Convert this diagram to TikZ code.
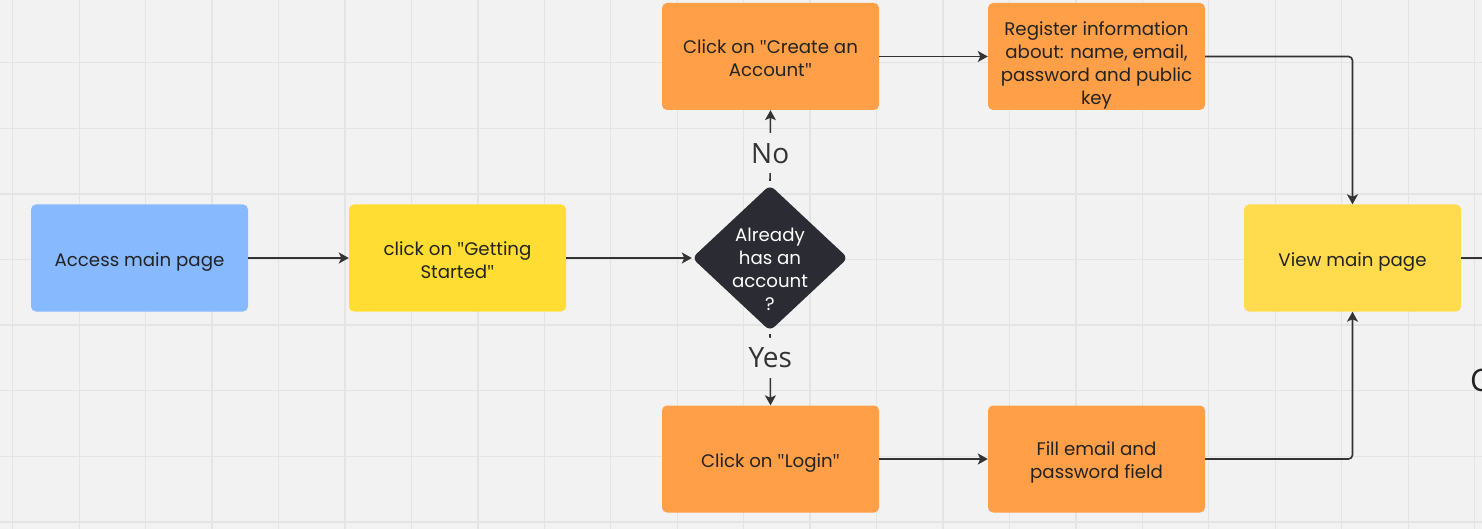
\documentclass[tikz,border=0pt]{standalone}
\usepackage{fontspec}
\setmainfont{Poppins}
\newfontfamily\labfont{Open Sans}
\newcommand\dq{{\labfont"}}
\usetikzlibrary{shapes.geometric,arrows.meta}
\definecolor{bg}{HTML}{F2F2F2}
\definecolor{gridc}{HTML}{E4E4E4}
\definecolor{bluec}{HTML}{86B9FF}
\definecolor{yellowa}{HTML}{FFDD33}
\definecolor{yellowb}{HTML}{FFDB4D}
\definecolor{orangec}{HTML}{FF9F47}
\definecolor{darkc}{HTML}{2B2C33}
\definecolor{txt}{HTML}{232323}
\definecolor{ln}{HTML}{333333}
\tikzset{
  box/.style={rectangle, rounded corners=5pt, minimum width=217pt, minimum height=107pt,
    inner sep=0pt},
  boxtext/.style={inner sep=0pt, align=center, text=txt, font=\fontsize{18.2}{23}\selectfont},
  conn/.style={draw=ln, line width=1.6pt, -{Stealth[length=10pt,width=11pt,inset=2.5pt]}},
  yn/.style={fill=bg, text=ln, font=\labfont\fontsize{28}{30}\selectfont,
    inner xsep=2pt, inner ysep=10pt, text height=20pt, text depth=0pt},
  dia/.style={diamond, fill=darkc, minimum width=156pt, minimum height=146pt,
    inner sep=0pt, rounded corners=6pt},
}
\begin{document}
\begin{tikzpicture}[x=1pt,y=-1pt]
\useasboundingbox (0,0) rectangle (1482,529);
\clip (0,0) rectangle (1482,529);
\fill[bg] (0,0) rectangle (1482,529);
\foreach \i in {0,...,22} {
  \draw[gridc, line width=1.3pt] ({12.7+66.45*\i},0) -- ({12.7+66.45*\i},529);
}
\foreach \j in {0,...,8} {
  \draw[gridc, line width=1.3pt] (0,{-2.9+65.6*\j}) -- (1482,{-2.9+65.6*\j});
}
% shapes
\node[box, fill=bluec] (acc) at (139.5,258) {};
\node[box, fill=yellowa] (get) at (457.5,258) {};
\node[dia] (q) at (770,258) {};
\node[box, fill=orangec] (create) at (770.5,56.5) {};
\node[box, fill=orangec] (reg) at (1096.5,56.5) {};
\node[box, fill=orangec] (login) at (770.5,459) {};
\node[box, fill=orangec] (fill) at (1096.5,459) {};
\node[box, fill=yellowb] (view) at (1352.5,258) {};
% texts
\node[boxtext] (acct) at (139.5,262) {Access main page};
\node[boxtext] (gett) at (457.5,260.5) {click on \dq Getting\\Started\dq};
\node[boxtext, text=white] (qt) at (770,269) {Already\\has an\\account\\?};
\node[boxtext] (createt) at (770.5,58) {Click on \dq Create an\\Account\dq};
\node[boxtext] (regt) at (1096.5,65) {Register information\\about: name, email,\\password and public\\key};
\node[boxtext] (logint) at (770.5,463) {Click on \dq Login\dq};
\node[boxtext] (fillt) at (1096.5,462.5) {Fill email and\\password field};
\node[boxtext] (viewt) at (1352.5,262.5) {View main page};
\coordinate (offr) at (1495,258);
\node[anchor=base west, text=txt, font=\labfont\fontsize{31}{33}\selectfont, inner sep=0pt] (cfrag) at (1470,391) {C};
% connectors
\draw[conn] (acc) -- (get);
\draw[conn] (get) -- (q.west);
\draw[conn, shorten <=4pt] (q.north) -- node[yn, pos=0.42] {No} (create.south);
\draw[conn, shorten <=3pt] (q.south) -- node[yn, pos=0.36] {Yes} (login.north);
\draw[conn] (create) -- (reg);
\draw[conn] (login) -- (fill);
\draw[conn, rounded corners=4pt] (reg.east) -| (view.north);
\draw[conn, rounded corners=4pt] (fill.east) -| (view.south);
\draw[draw=ln, line width=1.6pt] (view.east) -- (offr);
\end{tikzpicture}
\end{document}
